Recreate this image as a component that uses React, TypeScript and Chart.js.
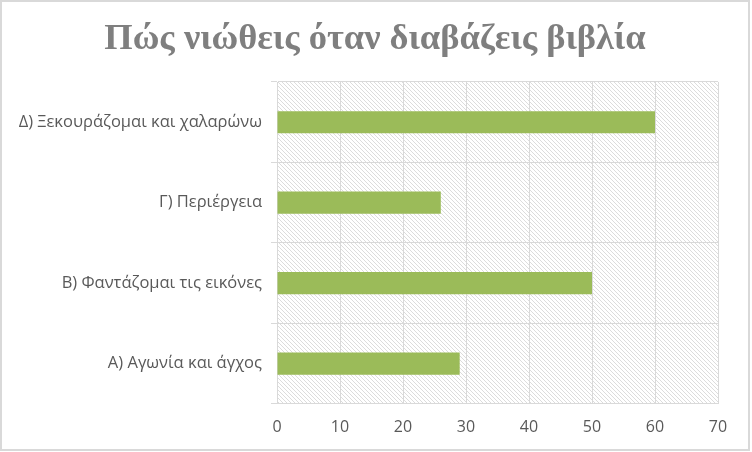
import React, { useEffect, useRef } from 'react';
import { Chart, registerables } from 'chart.js';

Chart.register(...registerables);

const categories = [
  'Δ) Ξεκουράζομαι και χαλαρώνω',
  'Γ) Περιέργεια',
  'Β) Φαντάζομαι τις εικόνες',
  'Α) Αγωνία και άγχος',
];
const values = [60, 26, 50, 29];
const xMin = 0;
const xMax = 70;
const xStep = 10;
const titleText = 'Πώς νιώθεις όταν διαβάζεις βιβλία';

function makePattern(): CanvasPattern | string {
  const c = document.createElement('canvas');
  c.width = 8;
  c.height = 8;
  const g = c.getContext('2d');
  if (!g) return '#ffffff';
  g.fillStyle = '#ffffff';
  g.fillRect(0, 0, 8, 8);
  g.fillStyle = '#dcdcdc';
  for (let i = 0; i < 8; i++) {
    g.fillRect(i, i, 1, 1);
    g.fillRect(i, (i + 4) % 8, 1, 1);
  }
  const p = g.createPattern(c, 'repeat');
  return p || '#ffffff';
}

const decorPlugin = {
  id: 'decor',
  beforeDraw(chart: any) {
    const { ctx, chartArea } = chart;
    if (!chartArea) return;
    ctx.save();
    ctx.fillStyle = makePattern();
    ctx.fillRect(chartArea.left, chartArea.top, chartArea.right - chartArea.left, chartArea.bottom - chartArea.top);
    ctx.restore();
  },
  afterDraw(chart: any) {
    const { ctx, width, height } = chart;
    ctx.save();
    ctx.fillStyle = '#7f7f7f';
    ctx.font = 'bold 36.5px "Liberation Serif"';
    ctx.textAlign = 'center';
    ctx.textBaseline = 'middle';
    ctx.fillText(titleText, 375, 40);
    ctx.strokeStyle = '#d9d9d9';
    ctx.lineWidth = 2;
    ctx.strokeRect(1, 1, width - 4, height - 3);
    ctx.restore();
  },
};

export default function App() {
  const ref = useRef<HTMLCanvasElement | null>(null);

  useEffect(() => {
    document.body.style.margin = '0';
    const canvas = ref.current;
    if (!canvas) return;
    const chart = new Chart(canvas, {
      type: 'bar',
      data: {
        labels: categories,
        datasets: [
          {
            data: values,
            backgroundColor: '#9bbb59',
            borderWidth: 0,
            categoryPercentage: 1,
            barPercentage: 0.275,
          },
        ],
      },
      options: {
        indexAxis: 'y',
        animation: false,
        responsive: false,
        maintainAspectRatio: false,
        layout: { padding: { left: 0, right: 34, top: 82, bottom: 1 } },
        plugins: {
          legend: { display: false },
          tooltip: { enabled: false },
          title: { display: false },
        },
        scales: {
          x: {
            min: xMin,
            max: xMax,
            ticks: {
              stepSize: xStep,
              color: '#595959',
              font: { family: 'Open Sans', size: 16 },
              padding: 14,
            },
            grid: { color: '#d9d9d9', drawTicks: false, lineWidth: 1 },
            border: { color: '#d9d9d9' },
          },
          y: {
            afterFit(scale: any) {
              scale.width = 277;
            },
            ticks: {
              color: '#595959',
              font: { family: 'Open Sans', size: 16.5 },
              padding: 9,
            },
            grid: { color: '#d9d9d9', offset: true, tickLength: 6, drawTicks: true },
            border: { color: '#d9d9d9' },
          },
        },
      },
      plugins: [decorPlugin],
    });
    return () => chart.destroy();
  }, []);

  return (
    <div style={{ width: 752, height: 452, background: '#ffffff' }}>
      <canvas ref={ref} width={752} height={452} style={{ display: 'block' }} />
    </div>
  );
}
